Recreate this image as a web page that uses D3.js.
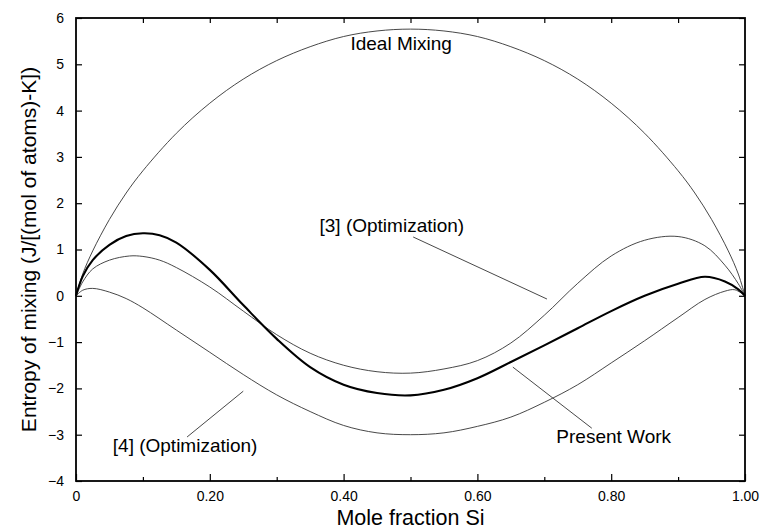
<!DOCTYPE html>
<html>
<head>
<meta charset="utf-8">
<script src="https://cdn.jsdelivr.net/npm/d3@7"></script>
<style>
  html, body { margin: 0; padding: 0; background: #fff; }
  svg { display: block; }
  text { font-family: "Liberation Sans", Arial, Helvetica, sans-serif; fill: #000; }
</style>
</head>
<body>
<svg id="chart" width="763" height="529"></svg>
<script>
// Mole fraction Si (x) and entropy of mixing (J/[(mol of atoms)-K]) for each curve
const idealX = [0, 0.01, 0.025, 0.05, 0.075, 0.1, 0.15, 0.2, 0.25, 0.3, 0.35, 0.4, 0.45, 0.5,
                0.55, 0.6, 0.65, 0.7, 0.75, 0.8, 0.85, 0.9, 0.925, 0.95, 0.975, 0.99, 1];
const idealS = [0, 0.47, 0.97, 1.65, 2.22, 2.70, 3.51, 4.16, 4.68, 5.08, 5.38, 5.60, 5.72, 5.76,
                5.72, 5.60, 5.38, 5.08, 4.68, 4.16, 3.51, 2.70, 2.22, 1.65, 0.97, 0.47, 0];

const presentX = [0, 0.01, 0.025, 0.05, 0.075, 0.1, 0.125, 0.15, 0.2, 0.25, 0.3, 0.35, 0.4, 0.45,
                  0.5, 0.55, 0.6, 0.65, 0.7, 0.75, 0.8, 0.85, 0.9, 0.94, 0.97, 0.99, 1];
const presentS = [0, 0.42, 0.77, 1.1, 1.29, 1.35, 1.31, 1.15, 0.56, -0.2, -0.93, -1.54, -1.92, -2.1,
                  -2.15, -2.03, -1.78, -1.43, -1.07, -0.7, -0.33, 0.0, 0.26, 0.41, 0.31, 0.14, 0];

const ref3X = [0, 0.01, 0.025, 0.05, 0.08, 0.1, 0.125, 0.15, 0.2, 0.25, 0.3, 0.35, 0.4, 0.45,
               0.5, 0.55, 0.6, 0.65, 0.7, 0.75, 0.8, 0.85, 0.9, 0.94, 0.97, 0.99, 1];
const ref3S = [0, 0.3, 0.58, 0.77, 0.86, 0.85, 0.77, 0.61, 0.19, -0.33, -0.84, -1.24, -1.5, -1.64,
               -1.67, -1.58, -1.4, -1.02, -0.42, 0.27, 0.86, 1.2, 1.28, 1.08, 0.66, 0.26, 0];

const ref4X = [0, 0.01, 0.025, 0.05, 0.075, 0.1, 0.15, 0.2, 0.25, 0.3, 0.35, 0.4, 0.45, 0.5,
               0.55, 0.6, 0.65, 0.7, 0.75, 0.8, 0.85, 0.9, 0.94, 0.97, 0.985, 1];
const ref4S = [0, 0.12, 0.16, 0.08, -0.06, -0.26, -0.74, -1.22, -1.7, -2.14, -2.5, -2.8, -2.96, -3.0,
               -2.96, -2.82, -2.62, -2.3, -1.92, -1.45, -0.97, -0.47, -0.08, 0.1, 0.13, 0];

// Axis ticks and labels
const xMajorTicks = [0, 0.2, 0.4, 0.6, 0.8, 1.0];
const xMajorLabels = ["0", "0.20", "0.40", "0.60", "0.80", "1.00"];
const xMinorTicks = [0.1, 0.3, 0.5, 0.7, 0.9];
const xTopTicks = [0.1, 0.2, 0.3, 0.4, 0.5, 0.6, 0.7, 0.8, 0.9];
const yTicks = [-4, -3, -2, -1, 0, 1, 2, 3, 4, 5, 6];

// Curve annotations: label text, label anchor and leader line (data units)
const noteText = ["Ideal Mixing", "[3] (Optimization)", "[4] (Optimization)", "Present Work"];
const noteAt = [[0.486, 5.31, "middle"], [0.364, 1.38, "start"], [0.055, -3.37, "start"], [0.718, -3.18, "start"]];
const noteLead = [null, [[0.504, 1.27], [0.704, -0.07]], [[0.166, -3.05], [0.25, -2.06]], [[0.653, -1.54], [0.771, -2.86]]];

const svg = d3.select("#chart");
const W = 763, H = 529;
const m = { left: 76, right: 745, top: 18, bottom: 481 };

svg.append("rect").attr("width", W).attr("height", H).attr("fill", "#fff");

const x = d3.scaleLinear().domain([0, 1]).range([m.left, m.right]);
const y = d3.scaleLinear().domain([-4, 6]).range([m.bottom, m.top]);

const line = d3.line()
  .x(d => x(d[0]))
  .y(d => y(d[1]))
  .curve(d3.curveCatmullRom.alpha(0.5));

const zip = (a, b) => a.map((v, i) => [v, b[i]]);

const curves = svg.append("g");
curves.append("path").datum(zip(idealX, idealS)).attr("d", line)
  .attr("fill", "none").attr("stroke", "#333").attr("stroke-width", 0.9);
curves.append("path").datum(zip(ref3X, ref3S)).attr("d", line)
  .attr("fill", "none").attr("stroke", "#333").attr("stroke-width", 0.9);
curves.append("path").datum(zip(ref4X, ref4S)).attr("d", line)
  .attr("fill", "none").attr("stroke", "#333").attr("stroke-width", 0.9);
curves.append("path").datum(zip(presentX, presentS)).attr("d", line)
  .attr("fill", "none").attr("stroke", "#000").attr("stroke-width", 2.1);

// Axes: all ticks point into the plot box
function styleAxis(g) {
  g.select(".domain").remove();
  g.selectAll(".tick line").attr("stroke", "#000").attr("stroke-width", 1.2);
  g.selectAll(".tick text").attr("font-size", 14)
    .attr("font-family", "'Liberation Sans', Arial, sans-serif").attr("fill", "#000");
}

svg.append("g").attr("transform", `translate(0,${m.bottom})`)
  .call(d3.axisBottom(x).tickValues(xMajorTicks)
    .tickFormat((d, i) => xMajorLabels[i]).tickSize(-7).tickPadding(10))
  .call(styleAxis);
svg.append("g").attr("transform", `translate(0,${m.bottom})`)
  .call(d3.axisBottom(x).tickValues(xMinorTicks).tickFormat("").tickSize(-4))
  .call(styleAxis);
svg.append("g").attr("transform", `translate(0,${m.top})`)
  .call(d3.axisTop(x).tickValues(xTopTicks).tickFormat("").tickSize(-5))
  .call(styleAxis);
svg.append("g").attr("transform", `translate(${m.left},0)`)
  .call(d3.axisLeft(y).tickValues(yTicks).tickFormat(d3.format("d")).tickSize(-6).tickPadding(12))
  .call(styleAxis);
svg.append("g").attr("transform", `translate(${m.right},0)`)
  .call(d3.axisRight(y).tickValues(yTicks).tickFormat("").tickSize(-6))
  .call(styleAxis);

// Plot frame
svg.append("rect")
  .attr("x", m.left).attr("y", m.top)
  .attr("width", m.right - m.left).attr("height", m.bottom - m.top)
  .attr("fill", "none").attr("stroke", "#000").attr("stroke-width", 1.8);

// Axis titles
svg.append("text")
  .attr("x", (m.left + m.right) / 2).attr("y", 525)
  .attr("text-anchor", "middle").attr("font-size", 21.5)
  .text("Mole fraction Si");

svg.append("text")
  .attr("transform", `translate(36,${(m.top + m.bottom) / 2}) rotate(-90)`)
  .attr("text-anchor", "middle").attr("font-size", 21)
  .text("Entropy of mixing (J/[(mol of atoms)-K])");

// Annotations
noteText.forEach((t, i) => {
  const [ax, ay, anchor] = noteAt[i];
  svg.append("text")
    .attr("x", x(ax)).attr("y", y(ay))
    .attr("text-anchor", anchor).attr("font-size", 19)
    .text(t);
  const ld = noteLead[i];
  if (ld) {
    svg.append("line")
      .attr("x1", x(ld[0][0])).attr("y1", y(ld[0][1]))
      .attr("x2", x(ld[1][0])).attr("y2", y(ld[1][1]))
      .attr("stroke", "#333").attr("stroke-width", 0.9);
  }
});
</script>
</body>
</html>
